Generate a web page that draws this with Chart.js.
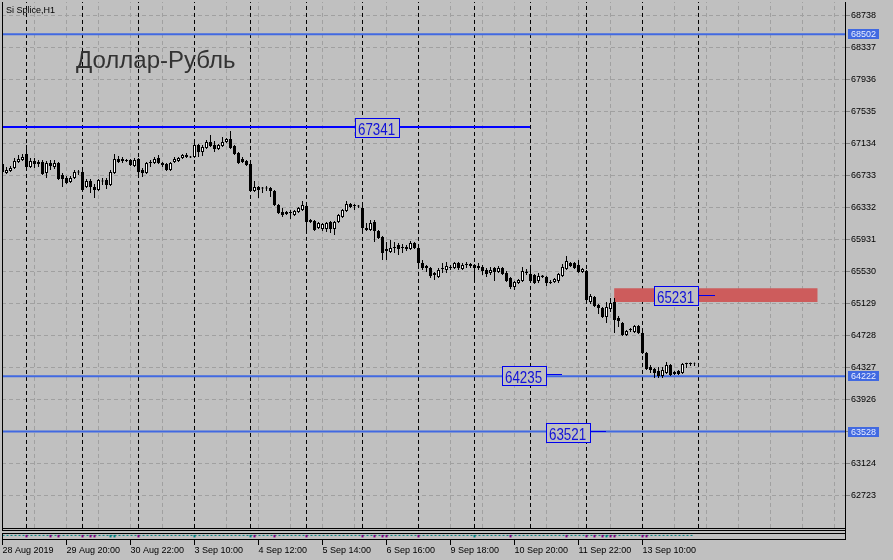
<!DOCTYPE html>
<html><head><meta charset="utf-8">
<script src="https://cdn.jsdelivr.net/npm/chart.js@4.4.1/dist/chart.umd.min.js"></script>
<style>html,body{margin:0;padding:0;background:#c0c0c0;overflow:hidden}canvas{display:block}</style>
</head><body>
<canvas id="c" width="893" height="560"></canvas>
<script>
// ---------- DATA (Si Splice, H1; bar index 0 = 28 Aug 2019 18:00) ----------
const barOpen = [66879,66766,66791,66829,66904,66929,67004,66841,66916,66904,66904,66766,66891,66841,66891,66741,66704,66653,66704,66773,
66779,66591,66666,66591,66553,66660,66678,66616,66766,66941,66941,66916,66929,66854,66941,66804,66766,66891,66891,66954,
66891,66879,66804,66904,66916,66954,66966,66960,66966,67117,67029,67079,67154,67117,67067,67104,67154,67192,67104,67016,
66941,66916,66879,66541,66591,66572,66585,66578,66541,66365,66278,66278,66265,66240,66278,66303,66353,66178,66165,66077,
66065,66065,66152,66065,66152,66215,66290,66378,66353,66359,66328,66077,66052,66152,66040,65965,65790,65777,65827,65865,
65827,65815,65815,65890,65827,65639,65577,65577,65489,65464,65564,65552,65589,65577,65639,65564,65614,65627,65614,65577,
65589,65552,65514,65577,65527,65577,65514,65451,65339,65389,65414,65533,65502,65489,65414,65464,65464,65401,65401,65414,
65476,65564,65639,65639,65614,65527,65539,65151,65213,65113,65076,64963,65063,65151,64950,64888,64738,64800,64775,64850,
64763,64512,64337,64312,64287,64224,64262,64362,64250,64287,64262,64375,64375,64380];
const barHigh = [66904,66841,66854,66954,66991,67004,67117,66954,66954,66929,66929,66916,66929,66929,66904,66766,66729,66729,66804,66804,
66804,66691,66691,66628,66691,66704,66704,66804,67004,66979,66966,66941,66941,66954,66954,66829,66904,66929,66966,66991,
66904,66891,66904,66966,66966,67004,67016,66979,67142,67129,67117,67179,67242,67167,67129,67217,67204,67292,67117,67029,
66966,66929,66891,66666,66603,66591,66603,66591,66553,66378,66328,66290,66303,66303,66340,66416,66365,66190,66178,66152,
66140,66152,66165,66165,66253,66315,66416,66390,66378,66365,66353,66140,66178,66178,66052,65977,65902,65927,65902,65890,
65877,65865,65915,65902,65840,65677,65614,65589,65527,65577,65639,65652,65614,65652,65652,65639,65652,65639,65627,65639,
65614,65577,65589,65589,65602,65589,65539,65464,65414,65439,65589,65564,65577,65502,65514,65489,65476,65426,65451,65514,
65627,65727,65652,65652,65677,65577,65552,65251,65226,65126,65088,65151,65201,65201,64975,64900,64800,64825,64863,64863,
64775,64525,64362,64325,64337,64337,64400,64375,64287,64300,64387,64390,64392,64392];
const barLow = [66766,66754,66779,66816,66891,66916,66829,66829,66829,66841,66741,66704,66804,66816,66678,66591,66628,66641,66691,66741,
66541,66578,66516,66453,66541,66616,66566,66603,66754,66891,66891,66904,66854,66841,66704,66716,66754,66841,66879,66879,
66841,66791,66791,66891,66904,66941,66954,66954,66954,66966,66979,67067,67092,67029,67054,67092,67142,67067,66991,66879,
66891,66854,66528,66528,66453,66516,66541,66466,66353,66253,66215,66240,66190,66228,66265,66290,66040,66140,66040,66065,
66040,66027,66015,65990,66140,66203,66278,66328,66303,66328,66015,66040,66040,65902,65940,65677,65677,65765,65765,65740,
65765,65790,65802,65815,65577,65552,65527,65451,65426,65451,65514,65514,65552,65564,65552,65552,65577,65577,65401,65552,
65489,65464,65489,65414,65514,65489,65401,65314,65301,65376,65401,65489,65401,65376,65389,65451,65351,65376,65389,65389,
65464,65552,65589,65564,65514,65514,65163,65126,65088,65000,64950,64888,65025,64763,64838,64725,64725,64775,64763,64750,
64500,64300,64262,64199,64199,64199,64250,64224,64237,64237,64250,64325,64350,64350];
const barClose = [66779,66804,66829,66916,66941,66966,66841,66916,66879,66879,66754,66891,66854,66891,66691,66691,66641,66704,66779,66785,
66553,66666,66591,66553,66678,66672,66616,66779,66941,66904,66916,66929,66866,66929,66779,66766,66891,66904,66941,66891,
66866,66804,66891,66941,66954,66991,66991,66973,67117,67029,67092,67154,67104,67067,67117,67154,67192,67079,67004,66891,
66904,66866,66541,66591,66553,66585,66572,66541,66365,66265,66240,66253,66278,66290,66328,66365,66152,66152,66052,66140,
66127,66140,66065,66152,66240,66303,66378,66340,66365,66347,66077,66052,66140,66040,65952,65765,65815,65827,65840,65815,
65840,65840,65890,65827,65639,65577,65602,65476,65514,65552,65577,65602,65577,65639,65577,65614,65627,65602,65577,65602,
65539,65502,65552,65527,65577,65502,65414,65339,65401,65426,65539,65514,65414,65389,65476,65483,65389,65389,65439,65502,
65589,65664,65602,65577,65527,65564,65176,65226,65101,65076,64963,65088,65138,64926,64913,64738,64788,64813,64850,64763,
64512,64312,64300,64262,64224,64300,64362,64237,64275,64250,64375,64387,64387,64387];

const xLabelIndex = [0,16,32,48,64,80,96,112,128,144,160];
const xLabels = ['28 Aug 2019','29 Aug 20:00','30 Aug 22:00','3 Sep 10:00','4 Sep 12:00','5 Sep 14:00','6 Sep 16:00','9 Sep 18:00','10 Sep 20:00','11 Sep 22:00','13 Sep 10:00'];
const daySeparators = [6,20,34,48,62,76,90,104,118,132,146,160,174];
const gridColumns = [8,16,24,32,40,48,56,64,72,80,88,96,104,112,120,128,136,144,152,160,168,176,184,192,200,208];
const priceTicks = [62723,63124,63525,63926,64327,64728,65129,65530,65931,66332,66733,67134,67535,67936,68337,68738];

const levelPrices = [68502, 64222, 63528];          // full-width horizontal lines
const trendPrice = 67341, trendFrom = 0, trendTo = 131.9;
const zoneFrom = 152.9, zoneTo = 203.8, zoneLow = 65151, zoneHigh = 65322;
const boxText  = ['67341','65231','64235','63521'];
const boxPrice = [67341, 65231, 64235, 63521];
const boxAt    = [88.1, 162.9, 124.9, 135.9];
const boxTail  = [98.9, 178.1, 139.9, 150.9];

// sub-window indicator
const subLevel = 62228, subLo = 62203, subHi = 62234;
const markPurple = [6,12,14,20,22,23,34,63,68,76,90,93,95,96,104,127,141,146,148,150,152,153,160,161];
const markTeal = [27,28,48,62,118,151];

// ---------- SCALE RANGE ----------
const Y_MIN = 62183, Y_MAX = 68907, MAIN_BOTTOM = 62321;
const X_MIN = -0.125, X_MAX = 210.625;
const FONT = '"Liberation Sans", Arial, sans-serif';

const idx = barOpen.map((_, i) => i);
const vseg = (list, lo, hi) => list.flatMap(i => [{x:i,y:lo},{x:i,y:hi},{x:i,y:null}]);
const hseg = (levels, from, to) => levels.flatMap(v => [{x:from,y:v},{x:to,y:v},{x:to,y:null}]);

const decor = {
  id: 'decor',
  afterDraw(chart) {
    const {ctx, chartArea: ca, scales: {x, y}} = chart;
    ctx.save();
    // frame lines
    const yb = Math.round(y.getPixelForValue(MAIN_BOTTOM));
    ctx.fillStyle = '#000';
    ctx.fillRect(ca.left, ca.top, 1, yb - ca.top + 3);
    ctx.fillRect(ca.left, yb, ca.right - ca.left, 1);
    ctx.fillRect(ca.left, yb + 2, ca.right - ca.left, 1);
    ctx.fillRect(ca.left, yb + 5, ca.right - ca.left, 1);
    ctx.fillRect(ca.left, yb + 5, 1, ca.bottom - yb - 5);
    // texts
    ctx.fillStyle = '#000';
    ctx.font = '9px ' + FONT;
    ctx.textBaseline = 'alphabetic';
    ctx.fillText('Si Splice,H1', 6, 13);
    ctx.fillStyle = '#333';
    ctx.font = '24px ' + FONT;
    ctx.fillText('Доллар-Рубль', 76, 68);
    // price label boxes
    for (let k = 0; k < boxText.length; k++) {
      const x0 = Math.round(x.getPixelForValue(boxAt[k]));
      const x1 = Math.round(x.getPixelForValue(boxTail[k]));
      const yc = y.getPixelForValue(boxPrice[k]);
      const w = 44, h = 19;
      const top = Math.round(yc - h / 2);
      ctx.fillStyle = '#0000ee';
      if (x1 > x0 + w) ctx.fillRect(x0 + w, Math.round(yc) - 1, x1 - x0 - w, 1);
      ctx.fillStyle = '#c0c0c0';
      ctx.fillRect(x0, top, w, h);
      ctx.strokeStyle = '#0000ee';
      ctx.lineWidth = 1;
      ctx.strokeRect(x0 + 0.5, top + 0.5, w, h);
      ctx.save();
      ctx.translate(x0 + 3, top + h / 2 + 7);
      ctx.scale(0.81, 1);
      ctx.font = '16.5px ' + FONT;
      ctx.fillStyle = '#1010d8';
      ctx.fillText(boxText[k], 0, 0);
      ctx.restore();
    }
    // axis highlight labels
    ctx.font = '9px ' + FONT;
    ctx.textBaseline = 'middle';
    for (const v of levelPrices) {
      const yy = Math.round(y.getPixelForValue(v));
      ctx.fillStyle = 'rgb(65,105,225)';
      ctx.fillRect(ca.right + 3, yy - 5, 31, 10);
      ctx.fillStyle = '#e8eeff';
      ctx.fillText(String(v), ca.right + 6, yy + 0.5);
    }
    ctx.restore();
  }
};

new Chart(document.getElementById('c'), {
  type: 'bar',
  data: {
    datasets: [
      { type: 'bar', label: 'body', order: 1, grouped: false, barThickness: 3, inflateAmount: 0,
        borderSkipped: false, borderWidth: 1, borderColor: '#000',
        backgroundColor: c => (barClose[c.dataIndex] >= barOpen[c.dataIndex] ? '#ffffff' : '#000000'),
        data: idx.map(i => ({x: i, y: [barOpen[i], barClose[i]]})) },
      { type: 'bar', label: 'wick', order: 2, grouped: false, barThickness: 1, inflateAmount: 0,
        borderWidth: 0, backgroundColor: '#000',
        data: idx.map(i => ({x: i, y: [barLow[i], barHigh[i]]})) },
      { type: 'line', label: 'trend', order: 3, borderColor: 'rgb(0,0,255)', borderWidth: 2, pointRadius: 0,
        data: [{x: trendFrom, y: trendPrice}, {x: trendTo, y: trendPrice}] },
      { type: 'line', label: 'levels', order: 4, borderColor: 'rgb(65,105,225)', borderWidth: 2, pointRadius: 0, spanGaps: false,
        data: hseg(levelPrices, X_MIN, X_MAX) },
      { type: 'line', label: 'zoneTop', order: 5, borderWidth: 0, pointRadius: 0, fill: '+1',
        backgroundColor: 'rgb(205,92,92)', borderColor: 'rgba(0,0,0,0)',
        data: [{x: zoneFrom, y: zoneHigh}, {x: zoneTo, y: zoneHigh}] },
      { type: 'line', label: 'zoneBottom', order: 5, borderWidth: 0, pointRadius: 0, borderColor: 'rgba(0,0,0,0)',
        data: [{x: zoneFrom, y: zoneLow}, {x: zoneTo, y: zoneLow}] },
      { type: 'line', label: 'separators', order: 6, borderColor: '#000', borderWidth: 1, borderDash: [4,3], pointRadius: 0, spanGaps: false,
        data: vseg(daySeparators, MAIN_BOTTOM, Y_MAX) },
      { type: 'line', label: 'gridV', order: 7, borderColor: '#a0a0a0', borderWidth: 1, borderDash: [4,3], pointRadius: 0, spanGaps: false,
        data: vseg(gridColumns, MAIN_BOTTOM, Y_MAX) },
      { type: 'line', label: 'indicator', order: 3, borderColor: '#008080', borderWidth: 1, borderDash: [2,2], pointRadius: 0,
        data: [{x: 0, y: subLevel}, {x: idx.length - 1, y: subLevel}] },
      { type: 'bar', label: 'markP', order: 2, grouped: false, barThickness: 2, inflateAmount: 0, borderWidth: 0,
        backgroundColor: '#800080', data: markPurple.map(i => ({x: i, y: [subLo, subHi]})) },
      { type: 'bar', label: 'markT', order: 2, grouped: false, barThickness: 2, inflateAmount: 0, borderWidth: 0,
        backgroundColor: '#008080', data: markTeal.map(i => ({x: i, y: [subLo, subHi]})) }
    ]
  },
  options: {
    responsive: false, animation: false, devicePixelRatio: 1, events: [],
    layout: { padding: { left: 2, top: 2, right: 0, bottom: 0 } },
    plugins: { legend: { display: false }, tooltip: { enabled: false } },
    scales: {
      x: {
        type: 'linear', min: X_MIN, max: X_MAX, bounds: 'data', offset: false, position: 'bottom',
        afterBuildTicks: s => { s.ticks = xLabelIndex.map(v => ({value: v})); },
        afterFit: s => { s.height = 21; s.paddingLeft = 0; s.paddingRight = 0; },
        ticks: { autoSkip: false, maxRotation: 0, minRotation: 0, align: 'start', padding: 0, color: '#000',
                 font: { family: FONT, size: 9 }, callback: (v, i) => xLabels[i] },
        grid: { offset: false, drawOnChartArea: false, drawTicks: true, tickLength: 6, tickColor: '#000' },
        border: { display: true, color: '#000', width: 1 }
      },
      y: {
        type: 'linear', position: 'right', min: Y_MIN, max: Y_MAX, bounds: 'data',
        afterBuildTicks: s => { s.ticks = priceTicks.map(v => ({value: v})); },
        afterFit: s => { s.width = 48; s.paddingTop = 0; s.paddingBottom = 0; },
        ticks: { padding: 1, color: '#000', font: { family: FONT, size: 9 }, callback: v => String(v) },
        grid: { color: '#a0a0a0', lineWidth: 1, drawTicks: true, tickLength: 5, tickColor: '#808080' },
        border: { display: true, color: '#000', width: 1, dash: [4,3] }
      }
    }
  },
  plugins: [decor]
});
</script>
</body></html>
